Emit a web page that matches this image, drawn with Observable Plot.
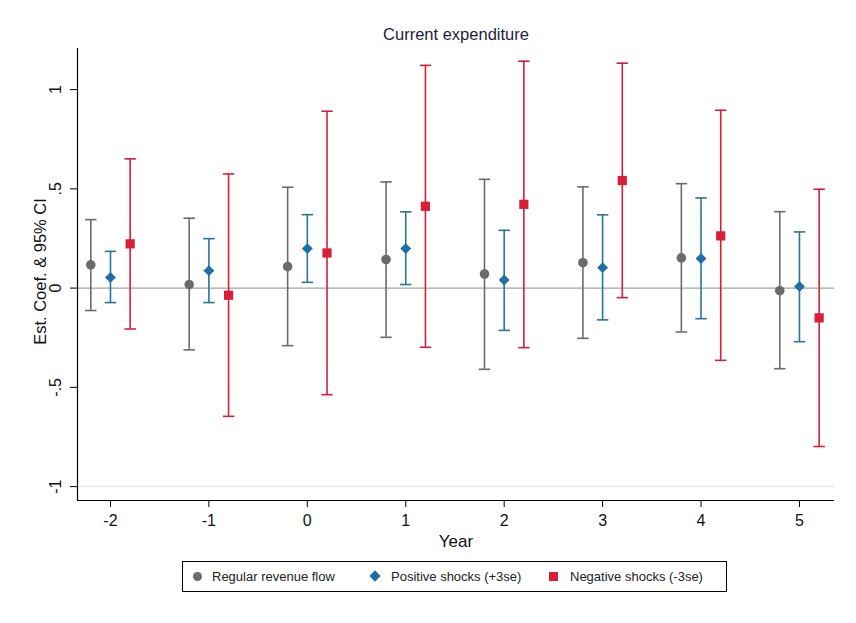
<!DOCTYPE html>
<html>
<head>
<meta charset="utf-8">
<script src="https://cdn.jsdelivr.net/npm/d3@7"></script>
<script src="https://cdn.jsdelivr.net/npm/@observablehq/plot@0.6"></script>
<style>
  body { margin: 0; background: #ffffff; font-family: "Liberation Sans", Arial, sans-serif; }
  #wrap { position: relative; width: 856px; height: 623px; }
  #legend { position: absolute; left: 182px; top: 561px; width: 543px; height: 29px;
            border: 1px solid #000; box-sizing: content-box; font-size: 13px; color: #222; }
  .item { position: absolute; top: 0; height: 29px; line-height: 29px; white-space: nowrap; }
  .sw { position: absolute; top: 10px; }
</style>
</head>
<body>
<div id="wrap">
  <div id="chart"></div>
  <div id="legend"></div>
</div>
<script>
const years = [-2, -1, 0, 1, 2, 3, 4, 5];
const seriesNames = ["Regular revenue flow", "Positive shocks (+3se)", "Negative shocks (-3se)"];

const regEst = [0.117, 0.018, 0.108, 0.144, 0.071, 0.128, 0.152, -0.013];
const regLo  = [-0.113, -0.311, -0.290, -0.248, -0.409, -0.253, -0.221, -0.406];
const regHi  = [0.345, 0.352, 0.508, 0.535, 0.548, 0.510, 0.526, 0.385];

const posEst = [0.054, 0.088, 0.199, 0.199, 0.041, 0.103, 0.149, 0.008];
const posLo  = [-0.073, -0.073, 0.029, 0.018, -0.213, -0.160, -0.154, -0.270];
const posHi  = [0.185, 0.249, 0.370, 0.384, 0.291, 0.369, 0.454, 0.283];

const negEst = [0.223, -0.036, 0.177, 0.412, 0.422, 0.542, 0.263, -0.150];
const negLo  = [-0.206, -0.646, -0.537, -0.298, -0.300, -0.048, -0.364, -0.798];
const negHi  = [0.651, 0.575, 0.891, 1.122, 1.143, 1.133, 0.896, 0.498];

const yTicks = [-1, -0.5, 0, 0.5, 1];
const yTickLabels = ["-1", "-.5", "0", ".5", "1"];

const offsets = [-0.2, 0, 0.2];
const markerColors = ["#6b6b6b", "#1f6fa8", "#d91f35"];
const whiskerColors = ["#6b6b6b", "#287693", "#d32038"];
const symbols = ["circle", "diamond2", "square"];
const radii = [4.8, 4.9, 5.2];

const xDomain = [-2.335, 5.356];
const yDomain = [-1.07, 1.207];
const cap = 0.058;

const est = [regEst, posEst, negEst], lo = [regLo, posLo, negLo], hi = [regHi, posHi, negHi];
const groups = seriesNames.map((name, s) =>
  years.map((yr, i) => ({series: name, year: yr, x: yr + offsets[s], est: est[s][i], lo: lo[s][i], hi: hi[s][i]}))
);

const marks = [
  Plot.ruleY([-1], {stroke: "#ececec", strokeWidth: 1.5}),
  Plot.ruleY([0], {stroke: "#a3a3a3", strokeWidth: 1.3}),
  Plot.ruleX([xDomain[0]], {stroke: "#000", strokeWidth: 1.2}),
  Plot.ruleY([yDomain[0]], {stroke: "#000", strokeWidth: 1.2}),
  Plot.axisY({ticks: yTicks, tickSize: 7, tickFormat: () => "", label: null, stroke: "#000"}),
  Plot.text(yTicks, {y: d => d, text: (d, i) => yTickLabels[i], frameAnchor: "left", dx: -22, rotate: -90, textAnchor: "middle", lineAnchor: "middle", fontSize: 16, fill: "#111"}),
  Plot.axisX({ticks: years, tickSize: 7, tickPadding: 7, tickFormat: d => String(d), label: null, fontSize: 16, stroke: "#000", fill: "#111"}),
  Plot.text(["Year"], {frameAnchor: "bottom", dy: 41, textAnchor: "middle", lineAnchor: "middle", fontSize: 17, fill: "#111"}),
  Plot.text(["Est. Coef. & 95% CI"], {frameAnchor: "left", dx: -37, dy: -3, rotate: -90, textAnchor: "middle", lineAnchor: "middle", fontSize: 16.5, fill: "#111"}),
  Plot.text(["Current expenditure"], {frameAnchor: "top", dy: -14, textAnchor: "middle", lineAnchor: "middle", fontSize: 16.5, fill: "#1e1e3c"})
];

groups.forEach((rows, s) => {
  marks.push(
    Plot.ruleX(rows, {x: "x", y1: "lo", y2: "hi", stroke: whiskerColors[s], strokeWidth: 1.6}),
    Plot.link(rows, {x1: d => d.x - cap, x2: d => d.x + cap, y1: "hi", y2: "hi", stroke: whiskerColors[s], strokeWidth: 1.6}),
    Plot.link(rows, {x1: d => d.x - cap, x2: d => d.x + cap, y1: "lo", y2: "lo", stroke: whiskerColors[s], strokeWidth: 1.6}),
    Plot.dot(rows, {x: "x", y: "est", symbol: () => symbols[s], fill: markerColors[s], stroke: "none", r: radii[s]})
  );
});

const chart = Plot.plot({
  width: 856,
  height: 555,
  marginLeft: 77,
  marginRight: 22,
  marginTop: 48,
  marginBottom: 55,
  style: {fontFamily: "'Liberation Sans', Arial, sans-serif", fontSize: "14px", background: "#fff"},
  x: {domain: xDomain, axis: null},
  y: {domain: yDomain, axis: null},
  symbol: {domain: symbols, range: symbols},
  marks
});
document.getElementById("chart").appendChild(chart);

// legend
const legend = document.getElementById("legend");
const items = [
  {sx: 10, tx: 29, shape: "circle"},
  {sx: 188, tx: 208, shape: "diamond"},
  {sx: 366, tx: 387, shape: "square"}
];
items.forEach((it, s) => {
  const sw = document.createElement("div");
  sw.className = "sw";
  sw.style.left = it.sx + "px";
  sw.style.background = markerColors[s];
  if (it.shape === "circle") { sw.style.width = "9px"; sw.style.height = "9px"; sw.style.borderRadius = "50%"; }
  if (it.shape === "diamond") { sw.style.width = "8px"; sw.style.height = "8px"; sw.style.transform = "rotate(45deg)"; }
  if (it.shape === "square") { sw.style.width = "9px"; sw.style.height = "9px"; }
  legend.appendChild(sw);
  const t = document.createElement("div");
  t.className = "item";
  t.style.left = it.tx + "px";
  t.textContent = seriesNames[s];
  legend.appendChild(t);
});
</script>
</body>
</html>
